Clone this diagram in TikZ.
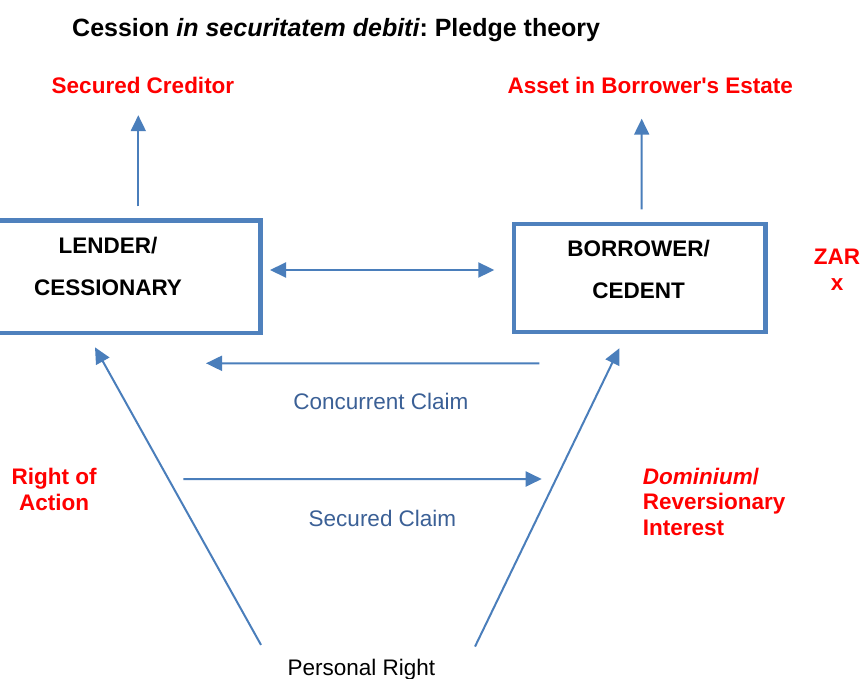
\documentclass[tikz,border=0pt]{standalone}
\usepackage{fontspec}
\setmainfont{Liberation Sans}
\usepackage{xcolor}
\usetikzlibrary{arrows.meta}
\frenchspacing

\definecolor{boxblue}{RGB}{79,129,189}
\definecolor{lineblue}{RGB}{74,126,187}
\definecolor{claimblue}{RGB}{59,96,150}

\begin{document}
\begin{tikzpicture}[
  x=1pt, y=-1pt,
  party/.style={draw=boxblue, line width=4.3pt},
  partytext/.style={font=\fontsize{22.5}{42}\selectfont\bfseries, align=center, inner sep=0pt},
  redhead/.style={font=\fontsize{22.5}{25.8}\selectfont\bfseries, text=red, inner sep=0pt},
  claimtext/.style={font=\fontsize{22.5}{27}\selectfont, text=claimblue, inner sep=0pt},
  arr/.style={draw=lineblue, line width=2pt, -{Triangle[length=16pt,width=15pt]}},
  twoarr/.style={arr, {Triangle[length=16pt,width=15pt]}-{Triangle[length=16pt,width=15pt]}}
]
  \path[use as bounding box, fill=white] (0,0) rectangle (861,679);

  \node[anchor=base west, font=\fontsize{25}{30}\selectfont\bfseries, inner sep=0pt] (title) at (72,36.5)
    {Cession {\itshape in securitatem debiti}: Pledge theory};

  % the two parties
  \node[party, minimum width=305pt, minimum height=112.5pt] (lender) at (108,276.75) {};
  \node[party, minimum width=251.7pt, minimum height=108.2pt] (borrower) at (639.65,277.9) {};
  \node[partytext, anchor=north] (lendertext) at ([yshift=39.85pt]lender.center) {LENDER/\\CESSIONARY};
  \node[partytext, anchor=north] (borrowertext) at ([xshift=-1pt,yshift=37.6pt]borrower.center) {BORROWER/\\CEDENT};

  % red labels
  \node[redhead, anchor=base] (creditor) at (143,93.3) {Secured Creditor};
  \node[redhead, anchor=base] (asset) at (650.3,93.3) {Asset in Borrower\textquotesingle s Estate};
  \node[redhead, anchor=north, align=center] (zar) at (837,248.9) {ZAR\\x};
  \node[redhead, anchor=north, align=center] (action) at (54.2,468) {Right of\\Action};
  \node[redhead, anchor=north west, align=left] (dominium) at (642.7,467.6) {\textit{Dominium}/\\Reversionary\\Interest};

  % claims
  \node[claimtext, anchor=base] (concurrent) at (380.8,409.3) {Concurrent Claim};
  \node[claimtext, anchor=base] (secured) at (382.5,526) {Secured Claim};
  \node[anchor=base, font=\fontsize{22.5}{27}\selectfont, inner sep=0pt] (personal) at (361.3,675) {Personal Right};

  \draw[arr] ([xshift=30.3pt,yshift=11.9pt]lender.north) -- ([xshift=-4.7pt,yshift=-21.5pt]creditor.south);
  \draw[arr] ([xshift=2pt,yshift=12.35pt]borrower.north) -- ([xshift=-8.6pt,yshift=-25pt]asset.south);
  \draw[twoarr] ([xshift=7.35pt,yshift=6.75pt]lender.east) -- ([xshift=-17.35pt,yshift=7.9pt]borrower.west);
  \draw[arr] ([xshift=-100.35pt,yshift=-29.15pt]borrower.south) -- ([xshift=98pt,yshift=-28.15pt]lender.south);
  \draw[arr] ([xshift=75.3pt,yshift=-143.85pt]lender.south) -- ([xshift=-97.95pt,yshift=-144.85pt]borrower.south);
  \draw[arr] ([xshift=-100.3pt,yshift=13.6pt]personal.north) -- ([xshift=-13pt,yshift=-12.15pt]lender.south);
  \draw[arr] ([xshift=113.7pt,yshift=11.9pt]personal.north) -- ([xshift=-20.35pt,yshift=-14.15pt]borrower.south);
\end{tikzpicture}
\end{document}
